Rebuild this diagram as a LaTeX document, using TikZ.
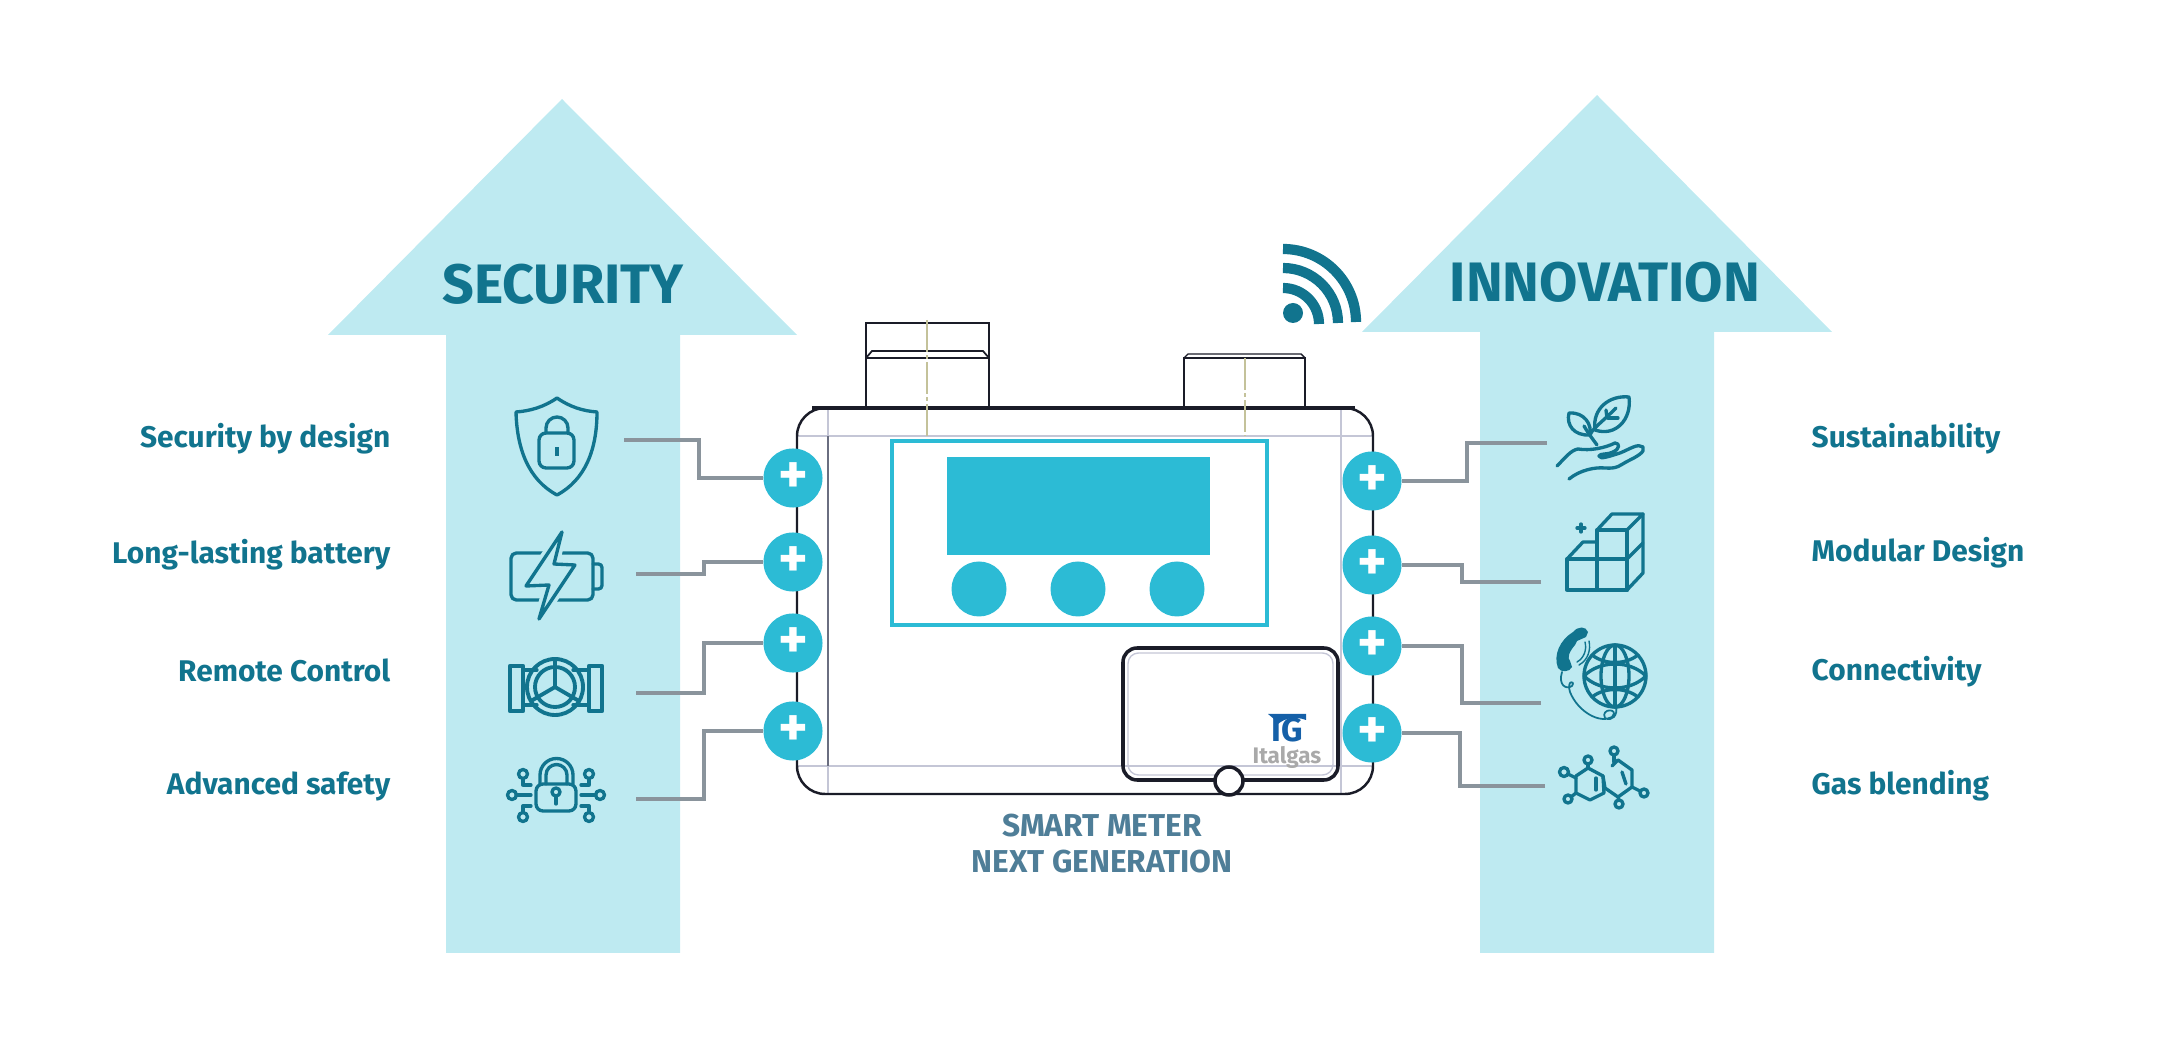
\documentclass[tikz,border=0pt]{standalone}
\usepackage{fontspec}
\setmainfont{Fira Sans}
\definecolor{arrowblue}{HTML}{BEEAF1}
\definecolor{tealtext}{HTML}{11748E}
\definecolor{cyanfill}{HTML}{2CBBD5}
\definecolor{slatetext}{HTML}{4F7E98}
\definecolor{wiregray}{HTML}{8A949C}
\definecolor{inkblack}{HTML}{1A1C28}
\definecolor{inkmid}{HTML}{6A6E80}
\definecolor{inklight}{HTML}{C4C6D6}
\definecolor{axisyellow}{HTML}{C4C29A}
\definecolor{logoblue}{HTML}{1560A8}
\definecolor{logogray}{HTML}{A9A9A9}
\tikzset{
  bigarrow/.style={fill=arrowblue, draw=none},
  headline/.style={text=tealtext, font=\fontsize{15.8}{18}\selectfont\bfseries, inner sep=0pt},
  featleft/.style={text=tealtext, font=\fontsize{8.5}{10}\selectfont\bfseries, anchor=east, inner sep=0pt},
  featright/.style={text=tealtext, font=\fontsize{8.5}{10}\selectfont\bfseries, anchor=west, inner sep=0pt},
  meterlabel/.style={text=slatetext, font=\fontsize{9}{10}\selectfont\bfseries, inner sep=0pt},
  plusdot/.style={circle, fill=cyanfill, text=white, minimum size=0.59cm, inner sep=0pt, font=\fontsize{16}{16}\selectfont\bfseries},
  wire/.style={draw=wiregray, line width=1.2pt},
  icon/.style={draw=tealtext, line width=0.95pt, line join=round, line cap=round},
  meterline/.style={draw=inkblack, line width=0.7pt},
  meterthin/.style={draw=inklight, line width=0.4pt},
  axisline/.style={draw=axisyellow, line width=0.35pt, dash pattern=on 9pt off 1pt on 1pt off 1pt},
  wave/.style={draw=tealtext, line width=2.9pt},
}
\begin{document}
\begin{tikzpicture}[x=0.01cm, y=-0.01cm]
    \useasboundingbox (0,0) rectangle (2159,1040);
    % Arrows
    \fill[bigarrow] (562,99) -- (797,335) -- (680,335) -- (680,953) -- (446,953) -- (446,335) -- (328,335) -- cycle;
    \fill[bigarrow] (1597,95) -- (1832,332) -- (1714,332) -- (1714,953) -- (1480,953) -- (1480,332) -- (1362,332) -- cycle;
    \node[headline] at (563, 284) (security) {SECURITY};
    \node[headline] at (1605, 282) (innovation) {INNOVATION};

    % Meter
    \draw[meterthin] (797,436) -- (1373,436);
    \draw[meterthin] (797,766) -- (1373,766);
    \draw[meterthin] (828,408) -- (828,794);
    \draw[meterthin] (1341,408) -- (1341,794);
    \draw[draw=inkmid, line width=0.45pt] (828,436) -- (828,766);
    \draw[meterline, rounded corners=8pt] (797,408) rectangle (1373,794);
    \draw[meterline, line width=1.1pt] (812,408) -- (1355,408);
    \draw[meterline] (866,408) -- (866,323) -- (989,323) -- (989,408);
    \draw[meterline] (866,358) -- (989,358);
    \draw[meterline, line width=0.5pt] (866,358) -- (872,351) -- (983,351) -- (989,358);
    \draw[meterline] (1184,408) -- (1184,358) -- (1305,358) -- (1305,408);
    \draw[meterline, line width=0.4pt] (1184,358) -- (1188,354) -- (1301,354) -- (1305,358);
    \draw[axisline] (927,320) -- (927,436);
    \draw[axisline] (1245,358) -- (1245,436);
    \draw[draw=cyanfill, line width=1.1pt] (892,441) rectangle (1267,625);
    \fill[cyanfill] (947,457) rectangle (1210,555);
    \fill[cyanfill] (979,589) circle[radius=27.5];
    \fill[cyanfill] (1078,589) circle[radius=27.5];
    \fill[cyanfill] (1177,589) circle[radius=27.5];
    \draw[meterline, line width=1pt, rounded corners=4pt] (1123,648) rectangle (1338,780);
    \draw[meterthin, rounded corners=3pt] (1128,653) rectangle (1333,775);
    \draw[fill=white, draw=inkblack, line width=1pt] (1229,781) circle[radius=14];
    \fill[logoblue] (1268,714) -- (1306,714) -- (1306,720) .. controls (1295,716) and (1285,718) .. (1278,724) -- (1274,719) -- cycle;
    \node[text=logoblue, font=\fontsize{9.5}{10}\selectfont\bfseries, inner sep=0pt] at (1287, 730) (logomark) {IG};
    \node[text=logogray, font=\fontsize{6.4}{7}\selectfont\bfseries, inner sep=0pt] at (1287, 757) (logoname) {Italgas};
    \node[meterlabel] at (1102, 826) (meterone) {SMART METER};
    \node[meterlabel] at (1102, 862) (metertwo) {NEXT GENERATION};

    % Wifi
    \fill[tealtext] (1293,313) circle[radius=10];
    \draw[wave] (1283,288) arc[start angle=-90, end angle=0, radius=36];
    \draw[wave] (1283,268) arc[start angle=-90, end angle=0, radius=55];
    \draw[wave] (1283,249) arc[start angle=-90, end angle=0, radius=73];

    % Nodes
    \node[plusdot] at (793, 478) (la) {+};
    \node[plusdot] at (793, 562) (lb) {+};
    \node[plusdot] at (793, 643) (lc) {+};
    \node[plusdot] at (793, 731) (ld) {+};
    \node[plusdot] at (1372, 481) (ra) {+};
    \node[plusdot] at (1372, 565) (rb) {+};
    \node[plusdot] at (1372, 646) (rc) {+};
    \node[plusdot] at (1372, 733) (rd) {+};
    \coordinate (sa) at (624,440);
    \coordinate (sb) at (636,574);
    \coordinate (sc) at (636,693);
    \coordinate (sd) at (636,799);
    \coordinate (ta) at (1547,443);
    \coordinate (tb) at (1541,582);
    \coordinate (tc) at (1541,703);
    \coordinate (td) at (1545,786);

    % Edges
    \draw[wire] (sa) -- ++(75,0) |- (la);
    \draw[wire] (sb) -- ++(68,0) |- (lb);
    \draw[wire] (sc) -- ++(68,0) |- (lc);
    \draw[wire] (sd) -- ++(68,0) |- (ld);
    \draw[wire] (ta) -- ++(-80,0) |- (ra);
    \draw[wire] (tb) -- ++(-79,0) |- (rb);
    \draw[wire] (tc) -- ++(-79,0) |- (rc);
    \draw[wire] (td) -- ++(-85,0) |- (rd);

    % Labels
    \node[featleft] at (391, 439) (fa) {Security by design};
    \node[featleft] at (391, 555) (fb) {Long-lasting battery};
    \node[featleft] at (391, 670) (fc) {Remote Control};
    \node[featleft] at (391, 786) (fd) {Advanced safety};
    \node[featright] at (1811, 439) (ga) {Sustainability};
    \node[featright] at (1811, 553) (gb) {Modular Design};
    \node[featright] at (1811, 672) (gc) {Connectivity};
    \node[featright] at (1811, 786) (gd) {Gas blending};

    % Shield
    \draw[icon] (557,398) .. controls (570,407) and (583,411) .. (597,412) .. controls (597,450) and (585,480) .. (557,495) .. controls (529,480) and (517,450) .. (516,412) .. controls (530,411) and (544,407) .. (557,398) -- cycle;
    \draw[icon, rounded corners=2pt] (539,433) rectangle (574,468);
    \draw[icon] (546,433) -- (546,428) arc[start angle=180, end angle=360, radius=11] -- (568,433);
    \fill[tealtext] (555,447) rectangle (559,456);

    % Battery
    \draw[icon, rounded corners=1.5pt] (511,553) rectangle (593,600);
    \draw[icon, rounded corners=1pt] (593,564) -- (602,564) -- (602,589) -- (593,589);
    \draw[icon, fill=arrowblue, preaction={draw=arrowblue, line width=3pt}] (562,532) -- (526,586) -- (549,585) -- (539,619) -- (575,565) -- (554,564) -- cycle;

    % Valve
    \draw[icon, line width=1.2pt] (510,666) rectangle (523,711);
    \draw[icon, line width=1.2pt] (589,666) rectangle (602,711);
    \draw[icon] (523,670) -- (537,670);
    \draw[icon] (573,670) -- (589,670);
    \draw[icon] (523,705) -- (537,705);
    \draw[icon] (573,705) -- (589,705);
    \draw[icon, line width=1.1pt] (555,687) circle[radius=28];
    \draw[icon, line width=1.1pt] (555,687) circle[radius=20];
    \draw[icon, line width=1.1pt] (555,687) -- (555,659);
    \draw[icon, line width=1.1pt] (555,687) -- (531,701);
    \draw[icon, line width=1.1pt] (555,687) -- (579,701);

    % Digital lock
    \draw[icon, rounded corners=2pt] (536,784) rectangle (576,811);
    \draw[icon] (540,784) -- (540,775) arc[start angle=180, end angle=360, radius=16.5] -- (573,784);
    \draw[icon] (546,784) -- (546,775) arc[start angle=180, end angle=360, radius=10.5] -- (567,784);
    \draw[icon] (556,792) circle[radius=4];
    \draw[icon] (556,796) -- (556,804);
    \draw[icon] (512,795) circle[radius=4.5];
    \draw[icon] (516,795) -- (531,795);
    \draw[icon] (523,774) circle[radius=4.5];
    \draw[icon] (523,779) -- (523,785) -- (531,785);
    \draw[icon] (523,817) circle[radius=4.5];
    \draw[icon] (523,812) -- (523,806) -- (531,806);
    \draw[icon] (600,795) circle[radius=4.5];
    \draw[icon] (596,795) -- (581,795);
    \draw[icon] (589,774) circle[radius=4.5];
    \draw[icon] (589,779) -- (589,785) -- (581,785);
    \draw[icon] (589,817) circle[radius=4.5];
    \draw[icon] (589,812) -- (589,806) -- (581,806);

    % Plant in hand
    \draw[icon] (1557,466) .. controls (1565,458) and (1571,450) .. (1578,449) .. controls (1590,451) and (1605,448) .. (1615,443) .. controls (1620,443) and (1620,449) .. (1613,452) .. controls (1608,455) and (1600,453) .. (1599,456) .. controls (1600,460) and (1610,456) .. (1620,453) .. controls (1630,449) and (1638,443) .. (1643,447) .. controls (1646,452) and (1636,457) .. (1628,461) .. controls (1620,465) and (1618,469) .. (1605,468) .. controls (1595,467) and (1580,470) .. (1569,479);
    \draw[icon] (1629,397) .. controls (1610,395) and (1592,408) .. (1595,430) .. controls (1615,437) and (1632,420) .. (1629,397) -- cycle;
    \draw[icon] (1569,413) .. controls (1566,425) and (1574,436) .. (1590,435) .. controls (1592,425) and (1585,412) .. (1569,413) -- cycle;
    \draw[icon] (1597,445) .. controls (1592,438) and (1590,436) .. (1584,426);
    \draw[icon] (1590,435) .. controls (1593,428) and (1600,424) .. (1616,408);
    \draw[icon] (1607,418) -- (1606,410);
    \draw[icon] (1608,418) -- (1618,418);

    % Cubes
    \draw[icon] (1567,559) rectangle (1627,590);
    \draw[icon] (1597,530) rectangle (1627,590);
    \draw[icon] (1597,530) -- (1612,514) -- (1643,514) -- (1627,530);
    \draw[icon] (1643,514) -- (1643,573) -- (1627,590);
    \draw[icon] (1643,543) -- (1627,559);
    \draw[icon] (1567,559) -- (1583,542) -- (1597,542);
    \draw[icon] (1577,528) -- (1585,528);
    \draw[icon] (1581,524) -- (1581,532);

    % Phone and globe
    \draw[icon] (1615,676) circle[radius=31];
    \draw[icon] (1615,676) ellipse[x radius=14, y radius=31];
    \draw[icon] (1615,645) -- (1615,707);
    \draw[icon] (1584,676) .. controls (1600,660) and (1630,660) .. (1646,676);
    \draw[icon] (1584,676) .. controls (1600,692) and (1630,692) .. (1646,676);
    \draw[icon] (1592,655) .. controls (1605,665) and (1625,665) .. (1638,655);
    \draw[icon] (1592,697) .. controls (1605,687) and (1625,687) .. (1638,697);
    \fill[tealtext] (1573,632) .. controls (1578,626) and (1586,626) .. (1588,632) -- (1586,637) -- (1577,641) -- (1575,645) .. controls (1569,652) and (1567,658) .. (1570,661) -- (1572,667) .. controls (1570,672) and (1561,673) .. (1558,668) .. controls (1553,655) and (1560,640) .. (1573,632) -- cycle;
    \draw[icon, line width=0.4pt] (1577,662) .. controls (1584,658) and (1587,650) .. (1585,642);
    \draw[icon, line width=0.4pt] (1579,665) .. controls (1588,660) and (1591,650) .. (1589,641);
    \draw[icon, line width=0.5pt] (1562,672) .. controls (1558,685) and (1566,690) .. (1572,686) .. controls (1576,680) and (1566,680) .. (1570,692) .. controls (1578,712) and (1600,724) .. (1612,717) .. controls (1620,708) and (1600,708) .. (1605,718) .. controls (1612,722) and (1618,715) .. (1616,707);

    % Molecule
    \draw[icon] (1588,768) -- (1603,776) -- (1604,793) -- (1590,800) -- (1576,793) -- (1576,776) -- cycle;
    \draw[icon] (1618,760) -- (1632,770) -- (1632,787) -- (1618,797) -- (1605,788) -- (1603,776);
    \draw[icon] (1618,760) -- (1612,766);
    \draw[icon] (1596,778) -- (1596,790);
    \draw[icon] (1622,772) -- (1626,784);
    \draw[icon] (1564,772) circle[radius=4.5];
    \draw[icon] (1588,760) circle[radius=4];
    \draw[icon] (1568,799) circle[radius=4];
    \draw[icon] (1614,751) circle[radius=4];
    \draw[icon] (1644,793) circle[radius=4];
    \draw[icon] (1619,804) circle[radius=4];
    \draw[icon] (1568,774) -- (1576,778);
    \draw[icon] (1588,764) -- (1588,768);
    \draw[icon] (1571,797) -- (1576,793);
    \draw[icon] (1614,755) -- (1614,762);
    \draw[icon] (1640,791) -- (1632,787);
    \draw[icon] (1619,800) -- (1618,797);
\end{tikzpicture}
\end{document}
